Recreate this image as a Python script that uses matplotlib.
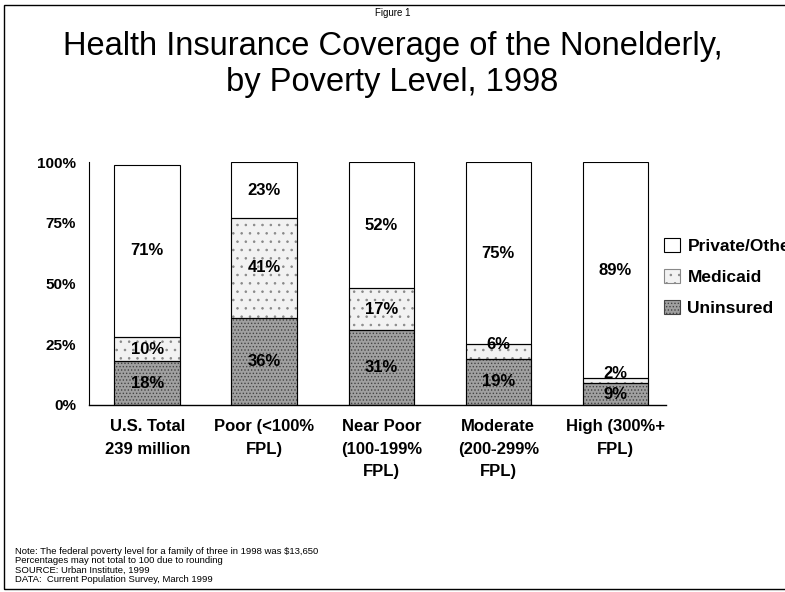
import numpy as np
import matplotlib.pyplot as plt
from matplotlib.patches import Rectangle

plt.rcParams['font.family'] = ['Liberation Sans', 'DejaVu Sans']
plt.rcParams['hatch.linewidth'] = 0.6

# data
categories = ['U.S. Total\n239 million', 'Poor (<100%\nFPL)',
              'Near Poor\n(100-199%\nFPL)', 'Moderate\n(200-299%\nFPL)',
              'High (300%+\nFPL)']
uninsured = [18, 36, 31, 19, 9]
medicaid = [10, 41, 17, 6, 2]
private = [71, 23, 52, 75, 89]
yticks = [0, 25, 50, 75, 100]

fig = plt.figure(figsize=(7.85, 5.92), dpi=100)
ax = fig.add_axes([0.113, 0.316, 0.735, 0.41])

x = np.arange(len(categories))
w = 0.56
b1 = ax.bar(x, uninsured, w, color='#a0a0a0', edgecolor='#444444', hatch='.....', linewidth=0.8)
b2 = ax.bar(x, medicaid, w, bottom=uninsured, color='#f2f2f2', edgecolor='#888888',
            hatch='..', linewidth=0.8)
bottom2 = np.array(uninsured) + np.array(medicaid)
b3 = ax.bar(x, private, w, bottom=bottom2, color='white', edgecolor='black', linewidth=0.8)
# black outlines on top of the hatched segments
for p in list(b1) + list(b2):
    ax.add_patch(Rectangle(p.get_xy(), p.get_width(), p.get_height(), fill=False,
                           edgecolor='black', linewidth=0.8))

# value labels
for i in range(len(x)):
    ax.text(x[i], uninsured[i] / 2, '%d%%' % uninsured[i], ha='center', va='center',
            fontsize=12, fontweight='bold')
    # small segments: label sits a bit above
    shift = 3 if medicaid[i] <= 6 else 0
    ax.text(x[i], uninsured[i] + medicaid[i] / 2 + shift, '%d%%' % medicaid[i],
            ha='center', va='center', fontsize=12, fontweight='bold')
    ax.text(x[i], bottom2[i] + private[i] / 2, '%d%%' % private[i], ha='center',
            va='center', fontsize=12, fontweight='bold')

ax.set_xlim(-0.5, 4.43)
ax.set_ylim(0, 100)
ax.set_yticks(yticks)
ax.set_yticklabels(['%d%%' % t for t in yticks], fontsize=11, fontweight='bold')
ax.set_xticks(x)
ax.set_xticklabels(categories, fontsize=12, fontweight='bold', linespacing=1.65, va='top')
ax.tick_params(axis='both', length=0)
ax.tick_params(axis='y', pad=9)
ax.tick_params(axis='x', pad=10)
ax.spines['top'].set_visible(False)
ax.spines['right'].set_visible(False)
ax.spines['left'].set_linewidth(0.8)
ax.spines['bottom'].set_linewidth(1.0)

# legend (the last label runs off the right edge, as in the original)
leg = fig.legend([b3[0], b2[0], b1[0]], ['Private/Other', 'Medicaid', 'Uninsured'],
                 loc='upper left', bbox_to_anchor=(0.826, 0.625), frameon=False,
                 prop={'size': 12.5, 'weight': 'bold'}, labelspacing=0.85,
                 handlelength=0.9, handleheight=0.9, handletextpad=0.45)

# titles
fig.text(0.5, 0.978, 'Figure 1', ha='center', va='center', fontsize=7)
fig.text(0.5, 0.922, 'Health Insurance Coverage of the Nonelderly,', ha='center',
         va='center', fontsize=23.5)
fig.text(0.5, 0.860, 'by Poverty Level, 1998', ha='center', va='center', fontsize=23.5)

# notes
notes = ['Note: The federal poverty level for a family of three in 1998 was $13,650',
         'Percentages may not total to 100 due to rounding',
         'SOURCE: Urban Institute, 1999',
         'DATA:  Current Population Survey, March 1999']
for k, line in enumerate(notes):
    fig.text(0.019, 1 - (551.5 + 9.4 * k) / 592, line, ha='left', va='center', fontsize=6.8)

# frame around the figure
fig.add_artist(Rectangle((0.005, 0.005), 1.2, 0.987, transform=fig.transFigure,
                         fill=False, edgecolor='black', linewidth=1.0))

fig.savefig('out.png', dpi=100)
